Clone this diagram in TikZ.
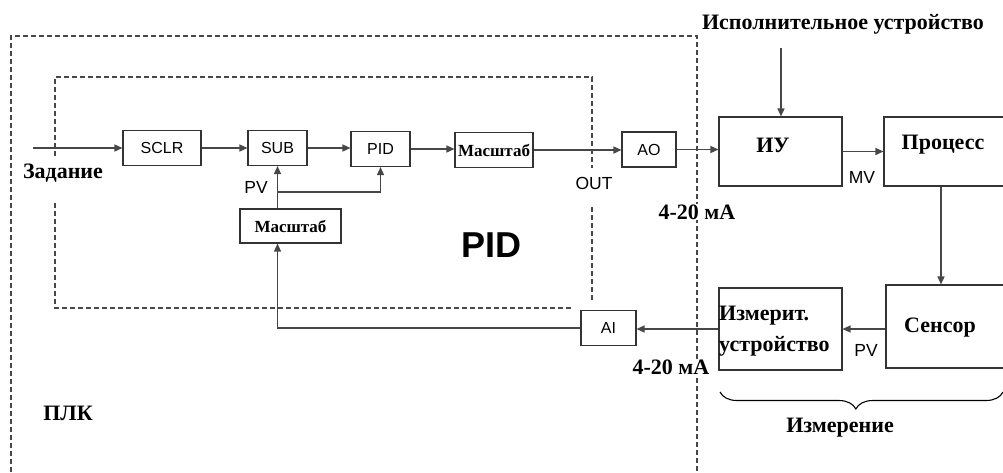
\documentclass[tikz,border=0pt]{standalone}
\usepackage{fontspec}
\setmainfont{Liberation Serif}
\setsansfont{Liberation Sans}
\usetikzlibrary{arrows.meta,decorations.pathreplacing}
\definecolor{ln}{gray}{0.28}
\definecolor{bx}{gray}{0.2}
\begin{document}
\begin{tikzpicture}[x=1pt,y=-1pt,
  blk/.style={draw=bx, line width=1.1pt, inner sep=0pt, font=\sffamily\fontsize{16}{16}\selectfont},
  sblk/.style={draw=bx, line width=1.1pt, inner sep=0pt, font=\bfseries\fontsize{17}{17}\selectfont},
  frm/.style={draw=bx, line width=1.1pt},
  arr/.style={draw=ln, line width=1.4pt, -{Triangle[length=8pt,width=7pt]}},
  dsh/.style={draw=ln, line width=1.2pt, dash pattern=on 5pt off 3pt},
  slab/.style={font=\sffamily\fontsize{17.5}{17.5}\selectfont, inner sep=1pt},
  rlab/.style={font=\bfseries\fontsize{22}{22}\selectfont, inner sep=1pt}]
\useasboundingbox (0,0) rectangle (1003,472);
% outer PLC frame
\draw[dsh] (11,472) -- (11,36) -- (697,36) -- (697,472);
% inner PID frame
\draw[dsh] (55,156) -- (55,77) -- (592,77) -- (592,168);
\draw[dsh] (55,203) -- (55,308) -- (573,308);
\draw[dsh] (592,207) -- (592,301);
% blocks
\node[blk, minimum width=78, minimum height=35] (sclr) at (162,148) {SCLR};
\node[blk, minimum width=59, minimum height=35] (sub) at (277.5,148) {SUB};
\node[blk, minimum width=59, minimum height=35] (pidb) at (380.5,149) {PID};
\node[sblk, minimum width=78, minimum height=35] (msa) at (494,150) {Масштаб};
\node[blk, minimum width=54, minimum height=35] (ao) at (649,149.5) {AO};
\node[sblk, minimum width=101, minimum height=34] (msb) at (290.5,226) {Масштаб};
\node[blk, minimum width=55, minimum height=35] (ai) at (608.5,328) {AI};
\node[frm, minimum width=123, minimum height=69] (iu) at (780.5,151.5) {};
\node[rlab] at (773,145) {ИУ};
\node[frm, minimum width=130, minimum height=69] (proc) at (949,151.5) {};
\node[rlab] at (943,145) {Процесс};
\node[frm, minimum width=123, minimum height=82] (meas) at (780.5,329) {};
\node[rlab, align=left, anchor=west] at (718,331) {Измерит.\\[9pt]устройство};
\node[frm, minimum width=130, minimum height=83] (sens) at (951,326.5) {};
\node[rlab] at (940,328) {Сенсор};
% labels
\node[rlab] (zad) at (63,173) {Задание};
\node[slab] at (256,187) {PV};
\node[slab] at (594,183) {OUT};
\node[rlab, fill=white] at (697,212) {4-20 мА};
\node[rlab, fill=white] at (671,367) {4-20 мА};
\node[slab] at (862,177) {MV};
\node[slab] at (866,350) {PV};
\node[font=\sffamily\bfseries\fontsize{36}{36}\selectfont] at (491,245) {PID};
\node[rlab] at (68,413) {ПЛК};
\node[rlab] (exec) at (843,24) {Исполнительное устройство};
\node[rlab] (izm) at (840,428) {Измерение};
% connectors
\coordinate (in) at (33,148);
\draw[arr] (in) -- (sclr.west);
\draw[arr] (sclr) -- (sub);
\draw[arr] (sub.east) -- (sub.east -| pidb.west);
\draw[arr] (pidb.east) -- (pidb.east -| msa.west);
\draw[arr] (msa.east) -- (msa.east -| ao.west);
\draw[arr] (ao.east) -- (ao.east -| iu.west);
\draw[arr] (iu.east) -- (proc.west);
\draw[arr] (proc.south -| 941,0) -- (sens.north -| 941,0);
\draw[arr] (sens.west |- meas.east) -- (meas.east);
\draw[arr] (meas.west) -- (meas.west -| ai.east);
\draw[arr] (ai.west) -- (ai.west -| sub.south) -- (msb.south -| sub.south);
\draw[arr] (msb.north -| sub.south) -- (sub.south);
\coordinate (br) at (277.5,192);
\draw[arr] (br) -| (pidb.south);
\coordinate (ein) at (781,48);
\draw[arr] (ein) -- (ein |- iu.north);
% brace
\draw[draw=black, line width=1.1pt, decorate, decoration={brace, amplitude=17pt, aspect=0.52}] (1003,392) -- (720,392);
\end{tikzpicture}
\end{document}
